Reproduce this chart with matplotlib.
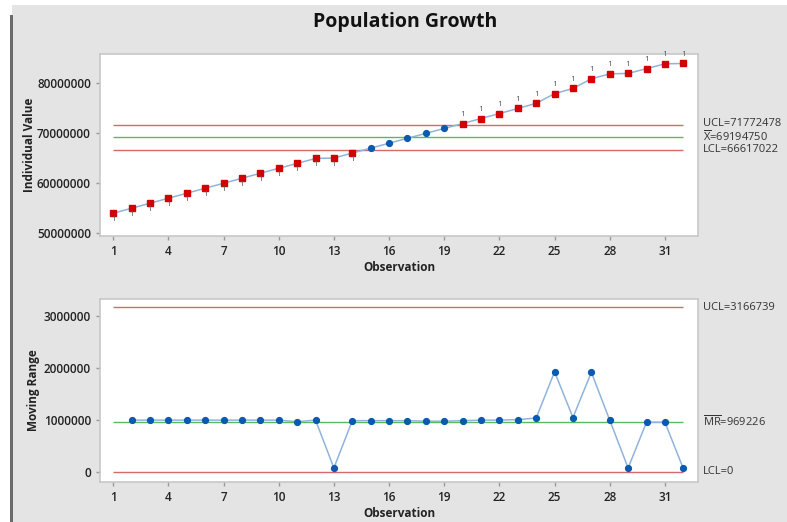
import matplotlib.pyplot as plt
import matplotlib.patches as mpatches
import numpy as np

plt.rcParams['font.family'] = ['Open Sans', 'DejaVu Sans']
plt.rcParams['mathtext.fontset'] = 'custom'
plt.rcParams['mathtext.rm'] = 'Open Sans'

# Yearly population figures, observations 1..32
observation = np.arange(1, 33)
population = np.array([
    54.02, 55.02, 56.02, 57.02, 58.02, 59.02, 60.02, 61.02, 62.02, 63.02,
    63.99, 64.99, 65.07, 66.06, 67.05, 68.04, 69.03, 70.01, 70.99, 71.98,
    72.98, 73.98, 74.99, 76.03, 77.96, 79.01, 80.93, 81.93, 82.01, 82.97,
    83.93, 84.00]) * 1e6

# Control limits reported for the I chart and the MR chart
i_ucl, i_mean, i_lcl = 71772478, 69194750, 66617022
mr_ucl, mr_mean, mr_lcl = 3166739, 969226, 0

xticks = [1, 4, 7, 10, 13, 16, 19, 22, 25, 28, 31]

moving_range = np.abs(np.diff(population))
mr_obs = observation[1:]

bg = '#e4e4e4'
line_col = '#8fb4dc'
pt_blue = '#0a5bb0'
pt_red = '#d40000'
lim_red = '#d46a6a'
ctr_green = '#5cb85c'

fig = plt.figure(figsize=(7.87, 5.22), dpi=100)
fig.patch.set_facecolor('white')
# grey panel with the dark left edge
fig.patches.append(mpatches.Rectangle((12 / 787, 0), 1, 1 - 5 / 522, transform=fig.transFigure,
                                      facecolor=bg, edgecolor='none', zorder=-2))
fig.patches.append(mpatches.Rectangle((10 / 787, 0), 2.5 / 787, 1 - 15 / 522, transform=fig.transFigure,
                                      facecolor='#6b6b6b', edgecolor='none', zorder=-1))

W, H = 787, 522
ax1 = fig.add_axes([100 / W, 1 - 236 / H, 598 / W, 182 / H])
ax2 = fig.add_axes([100 / W, 1 - 482 / H, 598 / W, 183 / H])

fig.text(405 / W, 1 - 22 / H, 'Population Growth', ha='center', va='center',
         fontsize=14, fontweight='bold', color='#111111')


def style_axes(ax):
    ax.set_facecolor('white')
    for s in ax.spines.values():
        s.set_color('#c8c8c8')
        s.set_linewidth(1.2)
    ax.set_xlim(0.28, 32.8)
    ax.set_xticks(xticks)
    ax.tick_params(axis='both', colors='#999999', labelcolor='#222222', length=3, width=1,
                   labelsize=8.5)
    for lab in ax.get_xticklabels() + ax.get_yticklabels():
        lab.set_fontweight('semibold')
    ax.set_xlabel('Observation', fontsize=8.5, fontweight='bold', color='#222222', labelpad=2)


def side_label(y_px, text):
    fig.text(703 / W, 1 - y_px / H, text, fontsize=8, va='center', color='#333333')


# Individual values chart
x_end = 32
ax1.hlines([i_ucl, i_lcl], 1, x_end, colors=lim_red, linewidth=1)
ax1.hlines(i_mean, 1, x_end, colors=ctr_green, linewidth=1)
ax1.plot(observation, population, color=line_col, linewidth=1.1, zorder=2)
out = (population > i_ucl) | (population < i_lcl)
ax1.plot(observation[~out], population[~out], 'o', color=pt_blue, markersize=4.2, zorder=3)
ax1.plot(observation[out], population[out], 's', color=pt_red, markersize=4.6, zorder=3)
for xo, yo in zip(observation[out], population[out]):
    if yo > i_ucl:
        ax1.annotate('1', (xo, yo), xytext=(0, 4), textcoords='offset points',
                     ha='center', va='bottom', fontsize=6, color='#555566')
    else:
        ax1.annotate('1', (xo, yo), xytext=(0, -2), textcoords='offset points',
                     ha='center', va='top', fontsize=6, color='#555566')
ax1.set_ylim(49.46e6, 85.9e6)
ax1.set_yticks([50000000, 60000000, 70000000, 80000000])
ax1.yaxis.set_major_formatter(plt.FuncFormatter(lambda v, p: f'{v:.0f}'))
style_axes(ax1)
ax1.set_ylabel('Individual Value', fontsize=8.5, fontweight='bold', color='#222222', labelpad=1)

side_label(124, f'UCL={i_ucl}')
side_label(137, r'$\overline{\mathrm{X}}$' + f'={i_mean}')
side_label(150, f'LCL={i_lcl}')

# Moving range chart
ax2.hlines([mr_ucl, mr_lcl], 1, x_end, colors=lim_red, linewidth=1)
ax2.hlines(mr_mean, 1, x_end, colors=ctr_green, linewidth=1)
ax2.plot(mr_obs, moving_range, color=line_col, linewidth=1.1, zorder=2)
ax2.plot(mr_obs, moving_range, 'o', color=pt_blue, markersize=4.2, zorder=3)
ax2.set_ylim(-0.19e6, 3.33e6)
ax2.set_yticks([0, 1000000, 2000000, 3000000])
ax2.yaxis.set_major_formatter(plt.FuncFormatter(lambda v, p: f'{v:.0f}'))
style_axes(ax2)
ax2.set_ylabel('Moving Range', fontsize=8.5, fontweight='bold', color='#222222', labelpad=3)

side_label(308, f'UCL={mr_ucl}')
side_label(422, r'$\overline{\mathrm{MR}}$' + f'={mr_mean}')
side_label(471, f'LCL={mr_lcl}')

fig.savefig('out.png', dpi=100, facecolor=fig.get_facecolor())
